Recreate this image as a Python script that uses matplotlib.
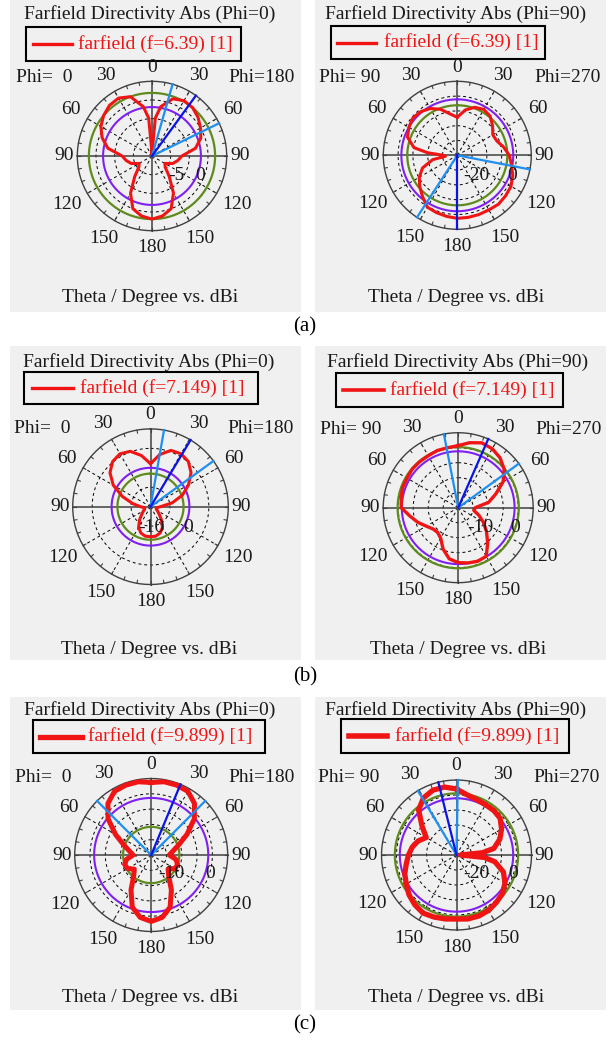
import numpy as np
import matplotlib.pyplot as plt
from matplotlib.patches import Rectangle
from matplotlib.lines import Line2D

plt.rcParams['font.family'] = ['Liberation Serif', 'DejaVu Serif']
plt.rcParams['font.size'] = 14

W, H = 608, 1041
fig = plt.figure(figsize=(W / 100, H / 100), dpi=100)

# angles in degrees, clockwise from the top of each polar plot
# directivity values in dBi
ang_a0 = [0, 5] + list(range(10, 360, 10)) + [355]
dbi_a0 = [-14.2, -4.8, -1.6, 1.3, 2.1, 1.9, 1.1, 0.0, -1.1, -3.2, -7.0, -8.0, -9.1,
          -11.0, -10.4, -7.8, -3.5, 0.0, 1.3, 1.9, 1.3, 0.0, -3.5, -7.8, -10.4, -11.0,
          -9.1, -8.0, -7.0, -3.0, -0.8, 0.8, 1.9, 2.7, 2.9, 1.9, -1.6, -4.8]

ang_a90 = list(range(0, 270, 10)) + [265, 270, 275] + list(range(280, 360, 10))
dbi_a90 = [-14.3, -8.9, -5.5, -4.2, -5.5, -8.9, -12.3, -11.6, -8.2, -4.9, -2.8, -0.1,
           1.9, 2.6, 3.2, 2.6, 2.6, 2.6, 2.6, 1.9, 1.2, 0.5, -3.5, -6.9, -10.3, -15.0,
           -23.1, -31.9, -30.5, -19.7, -10.3, -4.2, -2.2, -0.8, -1.5, -3.5, -6.9, -11.6]

ang10 = list(range(0, 360, 10))
dbi_b0 = [-7.9, -2.8, 0.8, 1.4, 0.3, -2.8, -7.4, -12.5, -18.7, -24.9, -26.9, -26.9,
          -25.9, -24.3, -21.3, -17.7, -15.6, -14.6, -14.6, -14.6, -15.6, -17.7, -21.3,
          -24.3, -25.9, -26.9, -26.9, -24.9, -20.7, -14.6, -7.9, -2.8, 0.3, 1.4, 0.3, -3.3]
dbi_b90 = [0.7, 2.0, 3.0, 2.7, 1.7, 0.0, -2.7, -6.7, -9.7, -14.3, -14.7, -12.7, -10.3,
           -7.7, -4.7, -1.3, -1.0, -1.3, -1.7, -2.7, -5.3, -8.3, -9.3, -9.0, -7.7, -5.7,
           -3.7, -1.0, -0.7, -0.3, -0.3, 0.0, 0.0, 0.0, 0.3, 0.3]
dbi_c0 = [3.7, 4.3, 4.3, 4.0, 2.0, -1.6, -6.5, -10.5, -12.8, -14.1, -11.8, -10.8, -11.1,
          -12.8, -11.1, -6.8, -1.9, 0.7, 1.7, 0.7, -1.9, -6.8, -11.1, -12.8, -11.1, -10.8,
          -11.8, -14.1, -12.8, -10.5, -6.5, -1.6, 2.0, 4.0, 4.3, 4.3]

ang_c90 = list(range(0, 90, 10)) + [85, 90, 95] + list(range(100, 360, 10))
dbi_c90 = [4.0, 0.7, -0.7, -1.3, -1.3, -2.0, -5.3, -9.3, -14.7, -22.7, -37.3, -21.3,
           -14.0, -6.7, -2.7, 0.0, 1.3, 2.7, 3.3, 3.3, 2.7, 3.3, 4.0, 4.7, 3.3, 1.3, -1.3,
           -3.3, -6.0, -8.0, -10.0, -12.7, -16.7, -10.0, -0.7, 4.0, 6.0, 6.0]

# reference circles (purple, green) and beam lines (light blue, dark blue)
purple = [-1.9, -2.2, -10.0, -1.2, -1.35, -2.2]
green = [1.9, -6.2, -13.0, 0.2, -10.8, 1.1]
beam_light = [[16, 64], [101, 213], [10, 54], [349, 54], [315, 45], [1, 329]]
beam_main = [36, 180, 31, 23.6, 22.5, 346]

freqs = ['6.39', '6.39', '7.149', '7.149', '9.899', '9.899']
cuts = ['0', '90', '0', '90', '0', '90']
phi_side = [('Phi=  0', 'Phi=180'), ('Phi= 90', 'Phi=270')]
rlabels = [[('-5', 24, 20), ('0', 48, 20)], [('-20', 19, 20), ('0', 55, 20)],
           [('-10', 1, 21), ('0', 38, 21)], [('-10', 22, 20), ('0', 57, 20)],
           [('-10', 20, 18), ('0', 59, 18)], [('-20', 20, 18), ('0', 57, 18)]]
rscale = [(-15, 5, 5), (-40, 10, 10), (-30, 10, 10), (-20, 5, 5), (-20, 5, 5), (-40, 10, 10)]
curves = [(ang_a0, dbi_a0), (ang_a90, dbi_a90), (ang10, dbi_b0),
          (ang10, dbi_b90), (ang10, dbi_c0), (ang_c90, dbi_c90)]

# layout in pixels
centers = [(152, 156, 74.7), (457.3, 155.3, 74), (150.5, 506.7, 77.8),
           (458.2, 507.7, 75), (151.2, 855, 76.5), (456.5, 855, 75)]
bg = [(10, 0, 301, 312), (315, 0, 606, 312), (10, 346, 301, 660),
      (315, 346, 606, 660), (10, 697, 301, 1010), (315, 697, 606, 1010)]
title_xy = [(150, 14), (456, 14), (149, 362), (458, 362), (150, 710), (456, 710)]
foot_y = [297, 297, 650, 650, 998, 998]
leg_box = [(26, 241, 27, 61), (331, 545, 26, 59), (24, 258, 372, 404),
           (336, 563, 373, 407), (33, 265, 720, 753), (341, 569, 719, 753)]
leg_line = [(33, 72, 78), (337, 376, 384), (32, 73, 80),
            (343, 384, 390), (40, 82, 88), (349, 387, 395)]
red_lw = [2.2, 2.2, 2.2, 2.4, 3.6, 3.8]

RED = '#f01414'
INK = '#1a1a1a'


def ftext(x, y, s, **kw):
    kw.setdefault('ha', 'center')
    kw.setdefault('va', 'center')
    kw.setdefault('color', INK)
    fig.text(x / W, 1 - y / H, s, **kw)


full = np.radians(np.arange(0, 362, 2))

for i in range(6):
    x0, y0, x1, y1 = bg[i]
    fig.patches.append(Rectangle((x0 / W, 1 - y1 / H), (x1 - x0) / W, (y1 - y0) / H,
                                 transform=fig.transFigure, facecolor='#f0f0f0',
                                 edgecolor='none', zorder=-5))
    cx, cy, R = centers[i]
    rmin, rmax, step = rscale[i]
    ax = fig.add_axes([(cx - R) / W, 1 - (cy + R) / H, 2 * R / W, 2 * R / H],
                      projection='polar')
    ax.set_theta_zero_location('N')
    ax.set_theta_direction(-1)
    ax.set_ylim(rmin, rmax)
    ax.axis('off')
    ax.patch.set_alpha(0)

    dash = dict(color='k', lw=0.7, ls=(0, (3, 3)), clip_on=False)
    for rv in np.arange(rmin + step, rmax - 1e-6, step):
        ax.plot(full, np.full(full.size, rv), **dash)
    for t in [30, 60, 120, 150, 210, 240, 300, 330]:
        ax.plot(np.radians([t, t]), [rmin, rmax], **dash)
    for t in range(0, 360, 10):
        ax.plot(np.radians([t, t]), [rmax - 0.04 * (rmax - rmin), rmax],
                color='#404040', lw=0.8, clip_on=False)
    for t in [0, 90, 180, 270]:
        ax.plot(np.radians([t, t]), [rmin, rmax], color='#404040', lw=1.1, clip_on=False)
    ax.plot(full, np.full(full.size, rmax), color='#404040', lw=1.0, clip_on=False)

    ax.plot(full, np.full(full.size, purple[i]), color='#8020f0', lw=1.5, clip_on=False)
    ax.plot(full, np.full(full.size, green[i]), color='#5f8a1e', lw=1.6, clip_on=False)

    ang, dbi = curves[i]
    th = np.radians(np.append(ang, ang[0] + 360))
    rr = np.append(dbi, dbi[0])
    ax.plot(th, rr, color=RED, lw=red_lw[i], clip_on=False, solid_joinstyle='round')

    for t in beam_light[i]:
        ax.plot(np.radians([t, t]), [rmin, rmax], color='#1e8ff0', lw=1.6, clip_on=False)
    t = beam_main[i]
    ax.plot(np.radians([t, t]), [rmin, rmax], color='#0a14e6', lw=1.6, clip_on=False)

    # theta labels around the circle
    for a, off in zip([0, 30, 60, 90, 120, 150, 180], [14, 18, 19, 13, 23, 21, 17]):
        sides = [1] if a in (0, 180) else [1, -1]
        for s in sides:
            ftext(cx + s * (R + off) * np.sin(np.radians(a)),
                  cy - (R + off) * np.cos(np.radians(a)), str(a))
    left, right = phi_side[i % 2]
    ftext(cx - 108, cy - 78, left)
    ftext(cx + 110, cy - 78, right)
    for lab, dx, dy in rlabels[i]:
        ftext(cx + dx, cy + dy, lab)

    tx, ty = title_xy[i]
    ftext(tx, ty, 'Farfield Directivity Abs (Phi=%s)' % cuts[i])
    ftext(tx, foot_y[i], 'Theta / Degree vs. dBi')

    bx0, bx1, by0, by1 = leg_box[i]
    fig.patches.append(Rectangle((bx0 / W, 1 - by1 / H), (bx1 - bx0) / W, (by1 - by0) / H,
                                 transform=fig.transFigure, facecolor='none',
                                 edgecolor='k', lw=1.5, zorder=3))
    lx0, lx1, txx = leg_line[i]
    ym = (by0 + by1) / 2
    fig.lines.append(Line2D([lx0 / W, lx1 / W], [1 - ym / H, 1 - ym / H],
                            transform=fig.transFigure, color=RED, lw=red_lw[i] + 0.2))
    ftext(txx, ym, 'farfield (f=%s) [1]' % freqs[i], ha='left', color=RED)

for lab, y in [('(a)', 327), ('(b)', 677), ('(c)', 1025)]:
    ftext(305, y, lab, fontsize=15, color='k')

fig.savefig('out.png', dpi=100)
